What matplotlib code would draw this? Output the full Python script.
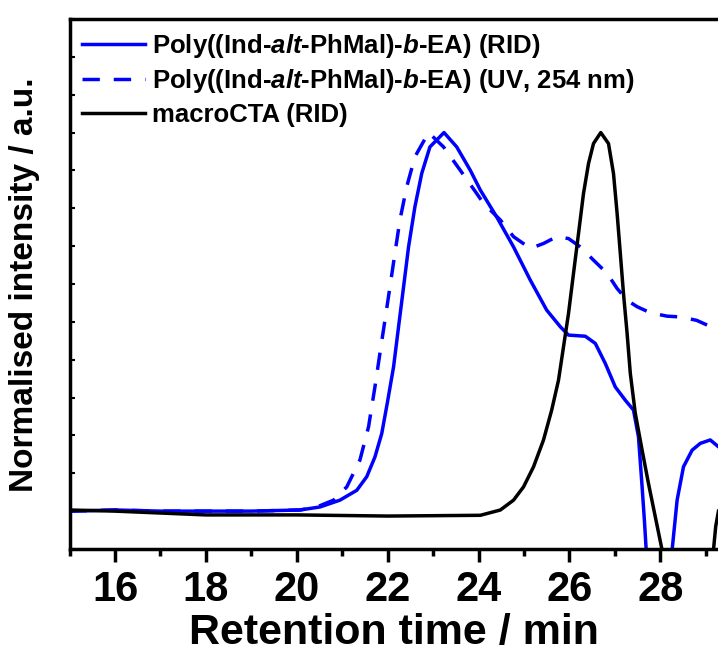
import matplotlib
matplotlib.use("Agg")
import matplotlib.pyplot as plt

plt.rcParams["font.family"] = ["Liberation Sans", "DejaVu Sans"]
plt.rcParams["font.weight"] = "bold"
plt.rcParams["mathtext.fontset"] = "custom"
plt.rcParams["mathtext.it"] = "Liberation Sans:italic:bold"
plt.rcParams["mathtext.rm"] = "Liberation Sans:bold"

# retention time (min) / normalised intensity
rid_time = [15.0, 16.0, 17.0, 18.0, 19.0, 20.07, 20.51, 20.95, 21.32, 21.54, 21.72,
            21.87, 21.99, 22.13, 22.24, 22.35, 22.46, 22.6, 22.75, 22.93, 23.24,
            23.52, 23.82, 24.04, 24.4, 24.77, 25.14, 25.5, 25.8, 25.98, 26.35,
            26.57, 26.79, 27.01, 27.23, 27.41, 27.52, 27.6, 27.65, 27.69, 27.8,
            28.1, 28.26, 28.37, 28.51, 28.7, 28.88, 29.1, 29.28]
rid_int = [0.0, 0.003, 0.0, 0.0, 0.0, 0.003, 0.011, 0.029, 0.055, 0.091, 0.143,
           0.205, 0.284, 0.381, 0.487, 0.592, 0.698, 0.804, 0.892, 0.962, 1.0,
           0.962, 0.9, 0.848, 0.777, 0.698, 0.61, 0.531, 0.487, 0.465, 0.462,
           0.443, 0.39, 0.328, 0.293, 0.267, 0.196, 0.064, -0.024, -0.103, -0.35,
           -0.35, -0.103, 0.029, 0.117, 0.161, 0.179, 0.188, 0.17]

uv_time = [15.0, 16.0, 17.0, 18.0, 19.0, 20.07, 20.44, 20.81, 21.1, 21.39, 21.58,
           21.72, 21.83, 21.94, 22.05, 22.16, 22.27, 22.42, 22.6, 22.9, 23.23,
           23.6, 23.96, 24.11, 24.48, 24.77, 25.14, 25.43, 25.72, 25.98, 26.24,
           26.53, 26.83, 27.05, 27.27, 27.49, 27.78, 28.15, 28.44, 28.8, 29.28]
uv_int = [0.0, 0.003, 0.0, 0.0, 0.0, 0.003, 0.011, 0.029, 0.064, 0.135, 0.223,
          0.328, 0.417, 0.504, 0.592, 0.681, 0.769, 0.857, 0.936, 1.0, 0.962,
          0.9, 0.839, 0.813, 0.769, 0.725, 0.694, 0.707, 0.725, 0.72, 0.698,
          0.663, 0.628, 0.588, 0.557, 0.54, 0.524, 0.515, 0.513, 0.504, 0.478]

cta_time = [15.0, 16.0, 17.0, 18.0, 20.0, 22.0, 24.04, 24.48, 24.77, 24.99, 25.21,
            25.43, 25.61, 25.76, 25.87, 25.98, 26.09, 26.2, 26.31, 26.42, 26.53,
            26.69, 26.86, 26.97, 27.05, 27.12, 27.19, 27.27, 27.34, 27.45, 27.6,
            27.74, 27.89, 28.04, 28.2, 29.05, 29.17, 29.22, 29.28]
cta_int = [0.003, 0.0, -0.005, -0.01, -0.01, -0.013, -0.011, 0.003, 0.029, 0.064,
           0.117, 0.188, 0.267, 0.346, 0.434, 0.522, 0.628, 0.733, 0.839, 0.918,
           0.971, 1.0, 0.971, 0.892, 0.786, 0.681, 0.575, 0.469, 0.364, 0.258,
           0.161, 0.073, -0.015, -0.103, -0.35, -0.35, -0.103, -0.04, 0.0]

labels = ["Poly((Ind-$alt$-PhMal)-$b$-EA) (RID)",
          "Poly((Ind-$alt$-PhMal)-$b$-EA) (UV, 254 nm)",
          "macroCTA (RID)"]

x_major = [16, 18, 20, 22, 24, 26, 28]
x_minor = [15, 17, 19, 21, 23, 25, 27, 29]
y_ticks = [round(-0.1 + 0.1 * i, 1) for i in range(15)]


def main() -> None:
    fig = plt.figure(figsize=(7.18, 6.57), dpi=100)
    ax = fig.add_axes([0.0969, 0.1644, 1.0 - 0.0969, 0.8067])

    ax.plot(rid_time, rid_int, color="#0000ff", lw=2.5, label=labels[0])
    ax.plot(uv_time, uv_int, color="#0000ff", lw=2.5, dashes=(5, 4), label=labels[1])
    ax.plot(cta_time, cta_int, color="black", lw=2.5, label=labels[2])

    ax.set_xlim(15, 29.27)
    ax.set_ylim(-0.1, 1.3)

    for side in ("left", "bottom", "top"):
        ax.spines[side].set_linewidth(2.5)
    ax.spines["right"].set_visible(False)

    ax.set_xticks(x_major)
    ax.set_xticks(x_minor, minor=True)
    ax.tick_params(axis="x", which="major", direction="out", length=9, width=2.5,
                   labelsize=30, pad=6)
    ax.tick_params(axis="x", which="minor", direction="out", length=5, width=2.5)
    ax.set_yticks(y_ticks)
    ax.tick_params(axis="y", which="major", direction="in", length=3.5, width=1.5,
                   labelleft=False)
    ax.tick_params(axis="y", which="minor", left=False)

    ax.set_xlabel("Retention time / min", fontsize=31, fontweight="bold", labelpad=2)
    fig.text(25 / 718, 1 - 285 / 657, "Normalised intensity / a.u.", rotation=90,
             ha="center", va="center", fontsize=24, fontweight="bold")

    ax.legend(loc="upper left", bbox_to_anchor=(0.019, 0.975), frameon=False,
              fontsize=18.5, handlelength=2.44, handletextpad=0.28,
              labelspacing=0.28, borderpad=0, borderaxespad=0)

    fig.savefig("out.png", dpi=100)
    plt.close(fig)


if __name__ == "__main__":
    main()
